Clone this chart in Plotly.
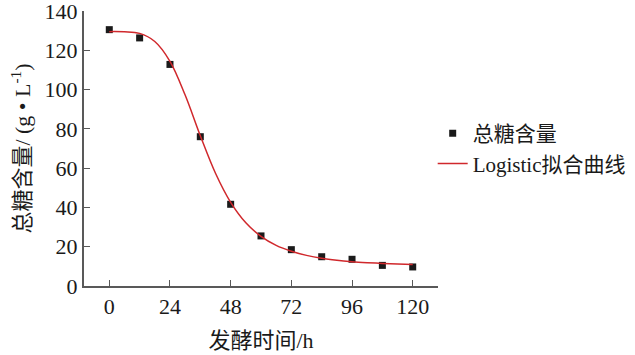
import plotly.graph_objects as go

# measured data
time_h = [0, 12, 24, 36, 48, 60, 72, 84, 96, 108, 120]
sugar = [130.5, 126.3, 112.8, 76.0, 41.6, 25.5, 18.5, 14.9, 13.6, 10.5, 9.7]

# fitted logistic curve
fit_t = [0, 6, 12, 18, 24, 30, 36, 42, 48, 54, 60, 66, 72, 78, 84, 90, 96, 102, 108, 114, 120]
fit_y = [129.5, 129.4, 128.6, 124.5, 114.4, 97.2, 76.5, 57.4, 42.6, 32.2, 25.3, 20.7, 17.7,
         15.6, 14.1, 13.1, 12.4, 11.9, 11.5, 11.2, 10.9]

x_ticks = [0, 24, 48, 72, 96, 120]
y_ticks = [0, 20, 40, 60, 80, 100, 120, 140]

serif = "Liberation Serif, Times New Roman, Noto Sans CJK SC, serif"
axis_col = "#595959"

fig = go.Figure()
fig.add_trace(go.Scatter(
    x=time_h, y=sugar, mode="markers", name="总糖含量",
    marker=dict(symbol="square", size=7, color="#1a1a1a"),
))
fig.add_trace(go.Scatter(
    x=fit_t, y=fit_y, mode="lines", name="Logistic拟合曲线",
    line=dict(color="#d0282c", width=1.5, shape="spline"),
))

fig.update_layout(
    width=635, height=355,
    margin=dict(l=84, r=197, t=11, b=69, autoexpand=False),
    paper_bgcolor="white", plot_bgcolor="white",
    font=dict(family=serif, size=22, color="#1a1a1a"),
    showlegend=True,
    legend=dict(x=0.985, y=0.50, xanchor="left", yanchor="middle",
                font=dict(size=21), tracegroupgap=0, itemwidth=30,
                borderwidth=0, bgcolor="rgba(0,0,0,0)"),
    xaxis=dict(
        range=[-10, 130], tickvals=x_ticks, ticks="inside", ticklen=6,
        tickwidth=1, tickcolor=axis_col, showline=True, linecolor=axis_col,
        linewidth=2, showgrid=False, zeroline=False, automargin=False,
        title=dict(text="发酵时间/h", font=dict(size=22), standoff=14),
    ),
    yaxis=dict(
        range=[0, 140], tickvals=y_ticks, ticks="inside", ticklen=6,
        tickwidth=1, tickcolor=axis_col, showline=True, linecolor=axis_col,
        linewidth=2, showgrid=False, zeroline=False, automargin=False,
        ticklabeloverflow="allow",
        title=dict(text="总糖含量/ (g • L<sup>-1</sup>)", font=dict(size=22), standoff=8),
    ),
)

fig.write_html("out.html")
